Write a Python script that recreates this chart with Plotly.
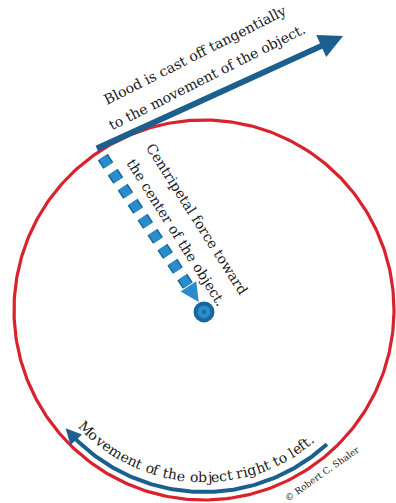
import numpy as np
import plotly.graph_objects as go

# ---- geometry "data" (unit circle = the object's path) ----
W, H = 396, 503
PX_PER_UNIT = 190.0
CENTER_PX = (204, 310)           # pixel position of circle centre
CIRCLE_R = 1.0
RELEASE_ANGLE = 123.5            # degrees, where blood leaves the circle
TANGENT_TIP = (0.732, 1.442)     # tip of the cast-off arrow
MOVE_ARC_R = 0.958
MOVE_ARC_START, MOVE_ARC_END = -47.5, -139.5   # degrees (right -> left)
CURVE_TEXT_R = 0.88
CURVE_TEXT_START, CURVE_TEXT_END = -135.0, -50.5

TEXT_TANGENT = ["Blood is cast off tangentially", "to the movement of the object."]
TEXT_CENTRIPETAL = ["Centripetal force toward", "the center of the object."]
TEXT_MOVE = "Movement of the object right to left."
TEXT_COPY = "© Robert C. Shaler"

RED = "#d8222c"
DARK_BLUE = "#1b5f8e"
MID_BLUE = "#17689c"
LIGHT_BLUE = "#2a8ccb"
FONT = "DejaVu Serif"

def P(px, py):
    return ((px - CENTER_PX[0]) / PX_PER_UNIT, (CENTER_PX[1] - py) / PX_PER_UNIT)

fig = go.Figure()

# red circle
t = np.linspace(0, 2 * np.pi, 400)
fig.add_trace(go.Scatter(x=CIRCLE_R * np.cos(t), y=CIRCLE_R * np.sin(t), mode="lines",
                         line=dict(color=RED, width=3.2), hoverinfo="skip"))

# centripetal dashed line
ra = np.radians(RELEASE_ANGLE)
u = np.array([np.cos(ra), np.sin(ra)])
start = u * 0.965
end = u * 0.12
for col, w in [(MID_BLUE, 12), (LIGHT_BLUE, 9)]:
    fig.add_trace(go.Scatter(x=[start[0], end[0]], y=[start[1], end[1]], mode="lines",
                             line=dict(color=col, width=w, dash="10px,8px"), hoverinfo="skip"))
tip = u * 0.05
fig.add_annotation(x=tip[0], y=tip[1], ax=u[0] * 0.13, ay=u[1] * 0.13, xref="x", yref="y",
                   axref="x", ayref="y", showarrow=True, arrowhead=2, arrowsize=0.75,
                   arrowwidth=5, arrowcolor=LIGHT_BLUE, text="")
fig.add_trace(go.Scatter(x=[0], y=[-0.01], mode="markers",
                         marker=dict(size=17, color=LIGHT_BLUE, line=dict(color=MID_BLUE, width=4)),
                         hoverinfo="skip"))
fig.add_trace(go.Scatter(x=[0], y=[-0.01], mode="markers",
                         marker=dict(size=4, color=MID_BLUE), hoverinfo="skip"))

# tangent arrow
tstart = u * 1.0
fig.add_annotation(x=TANGENT_TIP[0], y=TANGENT_TIP[1], ax=tstart[0] - 0.02, ay=tstart[1] + 0.012,
                   xref="x", yref="y", axref="x", ayref="y", showarrow=True, arrowhead=2,
                   arrowsize=0.8, arrowwidth=6, arrowcolor=DARK_BLUE, text="")

# movement arc with arrow
a = np.radians(np.linspace(MOVE_ARC_START, MOVE_ARC_END + 4, 120))
fig.add_trace(go.Scatter(x=MOVE_ARC_R * np.cos(a), y=MOVE_ARC_R * np.sin(a), mode="lines",
                         line=dict(color=DARK_BLUE, width=4), hoverinfo="skip"))
ea = np.radians(MOVE_ARC_END)
ba = np.radians(MOVE_ARC_END + 4.5)
fig.add_annotation(x=MOVE_ARC_R * np.cos(ea), y=MOVE_ARC_R * np.sin(ea),
                   ax=MOVE_ARC_R * np.cos(ba), ay=MOVE_ARC_R * np.sin(ba),
                   xref="x", yref="y", axref="x", ayref="y", showarrow=True, arrowhead=2,
                   arrowsize=0.9, arrowwidth=3.5, arrowcolor=DARK_BLUE, text="")

# straight texts
def txt(s, px, py, ang, size=14):
    x, y = P(px, py)
    fig.add_annotation(x=x, y=y, xref="x", yref="y", text=s, showarrow=False, textangle=ang,
                       font=dict(family=FONT, size=size, color="#1a1a1a"))

txt(TEXT_TANGENT[0], 195, 55, -26.8)
txt(TEXT_TANGENT[1], 207, 77, -26.8)
txt(TEXT_CENTRIPETAL[0], 197, 219, 57.5)
txt(TEXT_CENTRIPETAL[1], 176, 232, 57.5)
txt(TEXT_COPY, 322, 474, -35, size=9)

# curved text
CW = {' ': 0.318, '.': 0.318, 'M': 0.92, 'o': 0.602, 'v': 0.65, 'e': 0.592, 'm': 0.948,
      'n': 0.64, 't': 0.402, 'f': 0.37, 'h': 0.644, 'b': 0.64, 'j': 0.32, 'c': 0.56,
      'r': 0.478, 'i': 0.32, 'g': 0.64, 'l': 0.32}
widths = np.array([CW.get(c, 0.6) for c in TEXT_MOVE])
centers = np.cumsum(widths) - widths / 2
frac = (centers - centers[0]) / (centers[-1] - centers[0])
angs = CURVE_TEXT_START + frac * (CURVE_TEXT_END - CURVE_TEXT_START)
for c, ang in zip(TEXT_MOVE, angs):
    if c == ' ':
        continue
    th = np.radians(ang)
    fig.add_annotation(x=CURVE_TEXT_R * np.cos(th), y=CURVE_TEXT_R * np.sin(th), xref="x", yref="y",
                       text=c, showarrow=False, textangle=-(ang + 90),
                       font=dict(family=FONT, size=14, color="#1a1a1a"))

fig.update_layout(width=W, height=H, margin=dict(l=0, r=0, t=0, b=0),
                  paper_bgcolor="white", plot_bgcolor="white", showlegend=False,
                  xaxis=dict(range=[-CENTER_PX[0] / PX_PER_UNIT, (W - CENTER_PX[0]) / PX_PER_UNIT],
                             visible=False, fixedrange=True),
                  yaxis=dict(range=[-(H - CENTER_PX[1]) / PX_PER_UNIT, CENTER_PX[1] / PX_PER_UNIT],
                             visible=False, fixedrange=True))
fig.write_html("out.html", config={"displayModeBar": False},
               post_script="document.body.style.margin='0';document.body.style.overflow='hidden';")
